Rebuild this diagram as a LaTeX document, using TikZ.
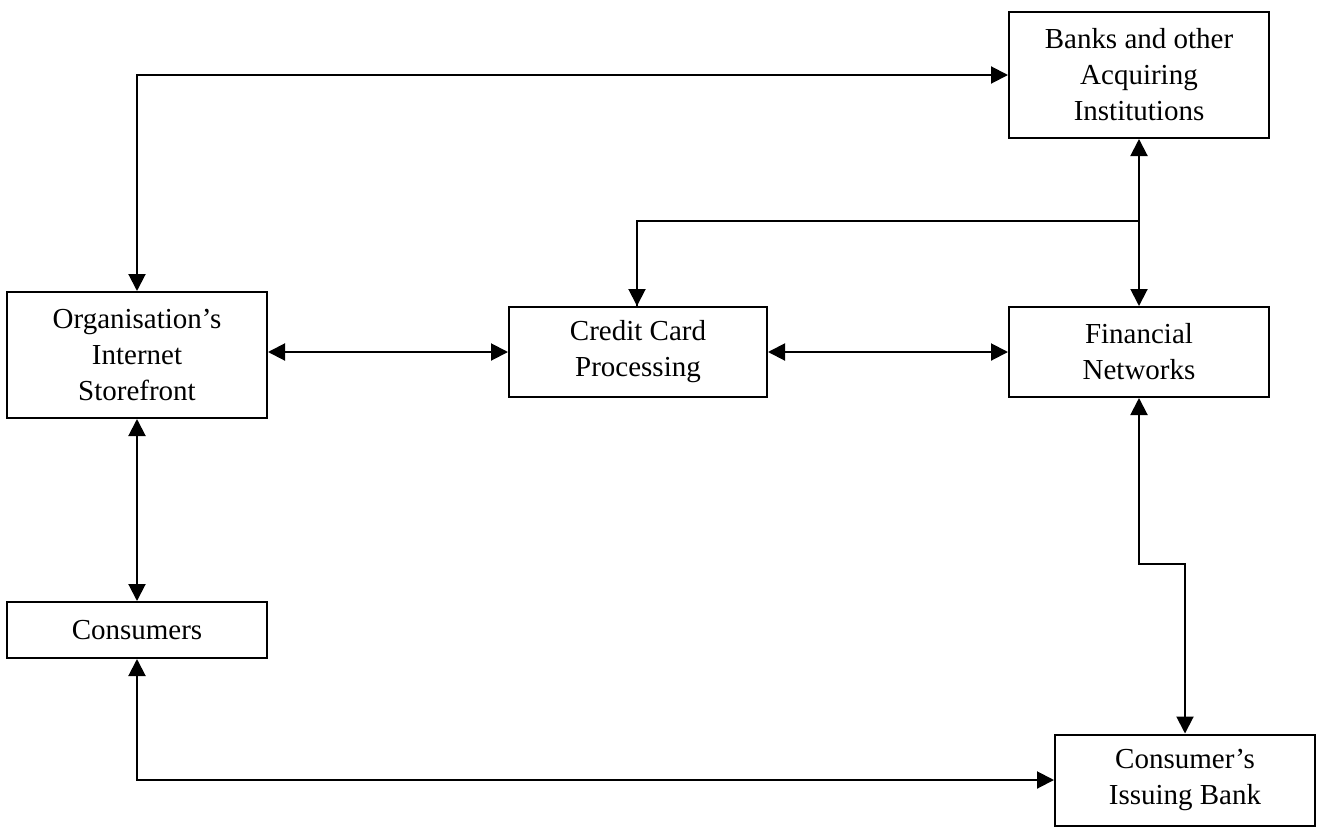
\documentclass[tikz,border=0pt]{standalone}
\usepackage{fontspec}
\setmainfont{Liberation Serif}
\usetikzlibrary{arrows.meta}
\begin{document}
\begin{tikzpicture}[x=1pt,y=-1pt,
  box/.style={draw,line width=2pt,minimum width=260pt,inner sep=0pt,align=center,
    font=\fontsize{29}{36}\selectfont},
  link/.style={line width=2pt,{Triangle[length=17pt,width=17pt]}-{Triangle[length=17pt,width=17pt]}},
  oneway/.style={line width=2pt,-{Triangle[length=17pt,width=17pt]}}]
\useasboundingbox (0,0) rectangle (1318,833);
\node[box,minimum height=126pt] (banks) at (1139,75) {Banks and other\\Acquiring\\Institutions};
\node[box,minimum height=126pt] (org) at (137,355) {Organisation’s\\Internet\\Storefront};
\node[box,minimum width=258pt,minimum height=90pt] (cc) at (638,352) {Credit Card\\Processing};
\node[box,minimum height=90pt] (fin) at (1139,352) {Financial\\Networks};
\node[box,minimum height=56pt] (cons) at (137,630) {Consumers};
\node[box,minimum height=91pt] (iss) at (1185,780) {Consumer’s\\Issuing Bank};
\coordinate (branch) at (1139,221);
\coordinate (jog) at (1139,564);
\draw[link] (org.north) |- (banks.west);
\draw[link] (banks.south) -- (fin.north);
\draw[line width=2pt] (branch) -| ([xshift=-1pt]cc.north);
\draw[oneway] ([xshift=-1pt]cc.north |- branch) -- ([xshift=-1pt]cc.north);
\draw[link] (org.east |- cc.west) -- (cc.west);
\draw[link] (cc.east) -- (fin.west);
\draw[link] (org.south) -- (cons.north);
\draw[link] (fin.south) -- (jog) -| (iss.north);
\draw[link] (cons.south) |- (iss.west);
\end{tikzpicture}
\end{document}
